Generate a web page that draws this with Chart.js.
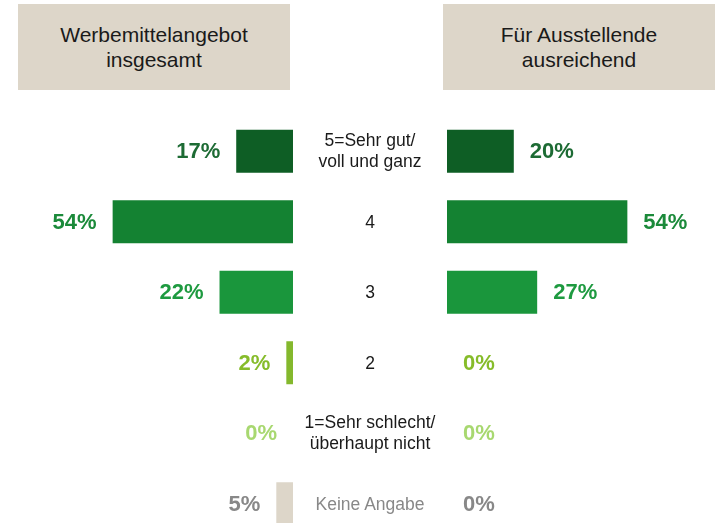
<!DOCTYPE html>
<html>
<head>
<meta charset="utf-8">
<script src="https://cdn.jsdelivr.net/npm/chart.js@4"></script>
<style>
body{margin:0;width:715px;height:523px;overflow:hidden;background:#fff;font-family:"Liberation Sans",Arial,sans-serif;position:relative}
.head{position:absolute;top:4px;height:86px;background:#ddd6c9;display:flex;align-items:center;justify-content:center;text-align:center;font-size:21px;line-height:25px;color:#1a1a1a}
canvas{position:absolute}
.cat{position:absolute;left:290px;width:160px;text-align:center;font-size:17.5px;line-height:21px;color:#1a1a1a;transform:translateY(-50%);white-space:pre}
</style>
</head>
<body>
<div class="head" style="left:18px;width:272px">Werbemittelangebot<br>insgesamt</div>
<div class="head" style="left:443px;width:272px">Für Ausstellende<br>ausreichend</div>
<canvas id="left" width="293" height="423" style="left:0;top:116px"></canvas>
<canvas id="right" width="268" height="423" style="left:447px;top:116px"></canvas>
<script>
var categories = ['5=Sehr gut/\nvoll und ganz', '4', '3', '2', '1=Sehr schlecht/\nüberhaupt nicht', 'Keine Angabe'];
var werbemittel = [17, 54, 22, 2, 0, 5];
var ausstellende = [20, 54, 27, 0, 0, 0];
var barColors = ['#0e5e25', '#148232', '#1a963c', '#84b82d', '#a8d870', '#ddd6c9'];
var labelColors = ['#1d6b34', '#1b8a3a', '#1e9a40', '#86bc2a', '#a8d870', '#888888'];
var catColors = ['#1a1a1a', '#1a1a1a', '#1a1a1a', '#1a1a1a', '#1a1a1a', '#888888'];

var pxPerPct = 3.34;

// draws the percent next to each bar
var valueLabels = {
    id: 'valueLabels',
    afterDatasetsDraw: function(chart) {
        var ctx = chart.ctx;
        var side = chart.options.side;
        var meta = chart.getDatasetMeta(0);
        ctx.save();
        ctx.font = 'bold 22px "Liberation Sans", Arial, sans-serif';
        ctx.textBaseline = 'middle';
        meta.data.forEach(function(bar, i) {
            var v = chart.data.datasets[0].data[i];
            ctx.fillStyle = labelColors[i];
            if (side == 'left') {
                ctx.textAlign = 'right';
                ctx.fillText(v + '%', bar.x - 16, bar.y + 1);
            } else {
                ctx.textAlign = 'left';
                ctx.fillText(v + '%', bar.x + 16, bar.y + 1);
            }
        });
        ctx.restore();
    }
};

function makeChart(id, values, side, width) {
    return new Chart(document.getElementById(id), {
        type: 'bar',
        data: {
            labels: categories,
            datasets: [{
                data: values,
                backgroundColor: barColors,
                borderWidth: 0,
                barPercentage: 43 / 70.5,
                categoryPercentage: 1
            }]
        },
        options: {
            side: side,
            indexAxis: 'y',
            responsive: false,
            animation: false,
            devicePixelRatio: 1,
            layout: { padding: 0 },
            plugins: { legend: { display: false }, tooltip: { enabled: false } },
            scales: {
                x: { display: false, min: 0, max: width / pxPerPct, reverse: side == 'left' },
                y: { display: false }
            }
        },
        plugins: [valueLabels]
    });
}

var leftChart = makeChart('left', werbemittel, 'left', 293);
var rightChart = makeChart('right', ausstellende, 'right', 268);

// category labels in the middle
categories.forEach(function(c, i) {
    var d = document.createElement('div');
    d.className = 'cat';
    d.textContent = c;
    d.style.color = catColors[i];
    d.style.top = (116 + leftChart.scales.y.getPixelForValue(i)) + 'px';
    document.body.appendChild(d);
});
</script>
</body>
</html>
